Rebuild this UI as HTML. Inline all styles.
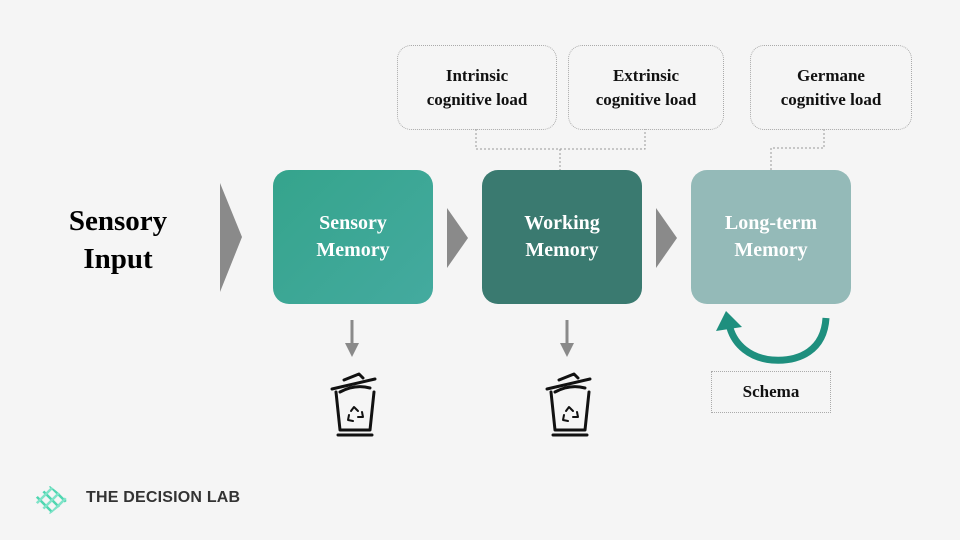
<!DOCTYPE html>
<html><head><style>
body{margin:0;width:960px;height:540px;background:#f5f5f5;font-family:"Liberation Serif",serif;position:relative;overflow:hidden}
.b{position:absolute;border-radius:16px;color:#fff;font-weight:bold;font-size:20px;line-height:27px;text-align:center;display:flex;align-items:center;justify-content:center}
.d{position:absolute;border:1.5px dotted #aaa;border-radius:14px;font-weight:bold;font-size:17px;line-height:24px;text-align:center;display:flex;align-items:center;justify-content:center;color:#111}
</style></head><body>
<svg width="960" height="540" style="position:absolute;left:0;top:0">
<g stroke="#999" stroke-width="1" stroke-dasharray="2,2" fill="none">
<path d="M476 129V149H645V129M560 149V170"/>
<path d="M824 129V148H771V170"/>
</g>
<polygon points="220,183 242,237 220,292" fill="#8a8a8a"/>
<polygon points="447,208 468,238 447,268" fill="#8a8a8a"/>
<polygon points="656,208 677,238 656,268" fill="#8a8a8a"/>
<g stroke="#8a8a8a" stroke-width="3" fill="#8a8a8a">
<line x1="352" y1="320" x2="352" y2="345"/><polygon points="345,343 359,343 352,357" stroke="none"/>
<line x1="567" y1="320" x2="567" y2="345"/><polygon points="560,343 574,343 567,357" stroke="none"/>
</g>
<g stroke="#111" stroke-width="3" fill="none" stroke-linecap="round" stroke-linejoin="round">
<g id="t"><path d="M336 392L340 430H370L374 392M332 389L375 379M344 380L359 374L363 378M338 435H372M340 392Q355 384 370 388"/><path d="M351 411l3-4 4 4M362 412l1 5-5 0M349 415l-1 5 5 1" stroke-width="2"/></g>
<use href="#t" transform="translate(215,0)"/>
</g>
<path d="M826 318 C824 350 800 362 772 360 C750 358 735 345 730 328" stroke="#1e8f7e" stroke-width="7" fill="none"/>
<polygon points="716,331 726,311 742,327" fill="#1e8f7e"/>
<defs><clipPath id="c"><polygon points="50,486 68,500 50,514 33,500"/></clipPath></defs>
<g clip-path="url(#c)" stroke="#4fd6b0" stroke-width="2.5">
<path d="M30 490l24 24M36 484l24 24M42 478l24 24M48 474l24 24M54 468l24 24"/>
<path d="M30 510l24-24M36 516l24-24M42 522l24-24" stroke="#7fe3c8"/>
</g>
</svg>
<div style="position:absolute;left:48px;top:202px;width:140px;text-align:center;font-weight:bold;font-size:29px;line-height:38px">Sensory<br>Input</div>
<div class="b" style="left:273px;top:170px;width:160px;height:134px;background:linear-gradient(135deg,#35a48c,#44aa9f)">Sensory<br>Memory</div>
<div class="b" style="left:482px;top:170px;width:160px;height:134px;background:#3a7a70">Working<br>Memory</div>
<div class="b" style="left:691px;top:170px;width:160px;height:134px;background:#94bab8">Long-term<br>Memory</div>
<div class="d" style="left:397px;top:45px;width:158px;height:83px">Intrinsic<br>cognitive load</div>
<div class="d" style="left:568px;top:45px;width:154px;height:83px">Extrinsic<br>cognitive load</div>
<div class="d" style="left:750px;top:45px;width:160px;height:83px">Germane<br>cognitive load</div>
<div class="d" style="left:711px;top:371px;width:118px;height:40px;border-radius:0">Schema</div>
<div style="position:absolute;left:86px;top:489px;font-family:'Liberation Sans',sans-serif;font-weight:bold;font-size:16px;color:#333;letter-spacing:0.2px">THE DECISION LAB</div>
</body></html>
